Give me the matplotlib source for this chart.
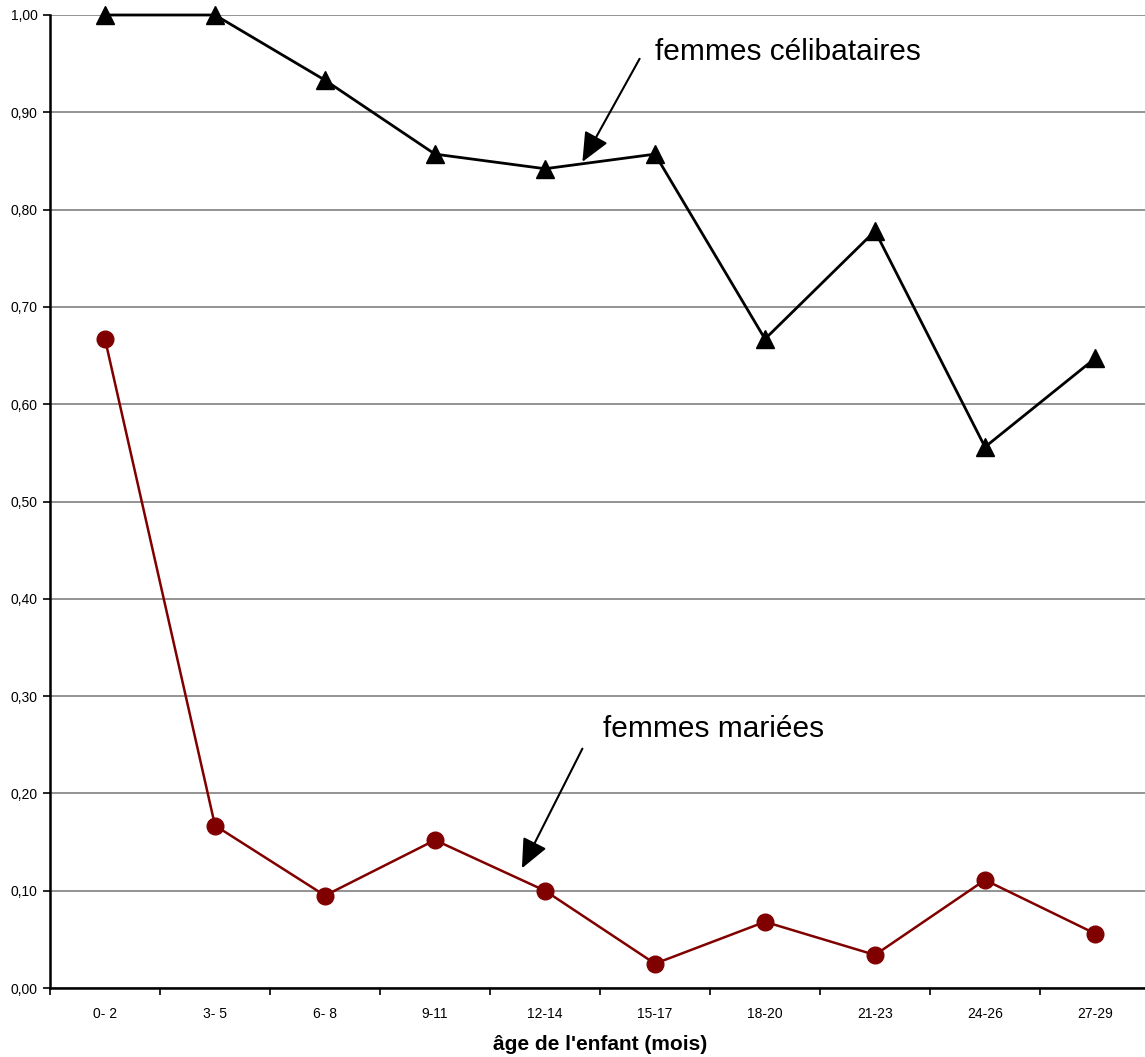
import matplotlib.pyplot as plt
import numpy as np

plt.rcParams['font.family'] = ['Liberation Sans', 'DejaVu Sans']

categories = ["0- 2", "3- 5", "6- 8", "9-11", "12-14", "15-17", "18-20", "21-23", "24-26", "27-29"]
celibataires = [1.000, 1.000, 0.933, 0.857, 0.842, 0.857, 0.667, 0.778, 0.556, 0.647]
mariees = [0.667, 0.167, 0.095, 0.152, 0.100, 0.025, 0.068, 0.034, 0.111, 0.056]

W, H = 1145, 1057
fig = plt.figure(figsize=(W / 100, H / 100), dpi=100)
# axes area in pixels: left 50, right 1150 (slightly past the image), top 15, bottom 988
ax = fig.add_axes([50 / W, (H - 988) / H, 1100 / W, 973 / H])

x = np.arange(len(categories))
ax.plot(x, celibataires, color="black", lw=2, marker="^", ms=13, zorder=3, clip_on=False)
ax.plot(x, mariees, color="#800000", lw=1.8, marker="o", ms=12, zorder=3, clip_on=False)

ax.set_xlim(-0.5, len(categories) - 0.5)
ax.set_ylim(0, 1.0)
yt = np.arange(0, 1.01, 0.1)
ax.set_yticks(yt)
ax.set_yticklabels([f"{v:.2f}".replace(".", ",") for v in yt], fontsize=10)
ax.yaxis.grid(True, color="#808080", lw=1.2)
ax.set_axisbelow(True)

ax.set_xticks(x)
ax.set_xticklabels(categories, fontsize=10)
ax.set_xticks(np.arange(-0.5, len(categories), 1), minor=True)
ax.tick_params(axis="x", which="major", length=0, pad=14)
ax.tick_params(axis="x", which="minor", length=5, width=1.2, direction="out")
ax.tick_params(axis="y", length=5, width=1.2, direction="out", pad=4)

for s in ["top", "right"]:
    ax.spines[s].set_visible(False)
for s in ["left", "bottom"]:
    ax.spines[s].set_linewidth(1.8)

ax.set_xlabel("âge de l'enfant (mois)", fontsize=15, fontweight="bold", labelpad=10)

arrow = dict(arrowstyle="-|>,head_length=1.8,head_width=0.8", color="black", lw=1.5,
             shrinkA=0, shrinkB=0)
ax.annotate("", xy=(4.34, 0.849), xytext=(4.86, 0.955), arrowprops=arrow)
ax.text(5.0, 0.962, "femmes célibataires", fontsize=21.5, va="center", ha="left")
ax.annotate("", xy=(3.79, 0.123), xytext=(4.34, 0.246), arrowprops=arrow)
ax.text(4.53, 0.266, "femmes mariées", fontsize=21.5, va="center", ha="left")

fig.savefig("out.png", dpi=100)
